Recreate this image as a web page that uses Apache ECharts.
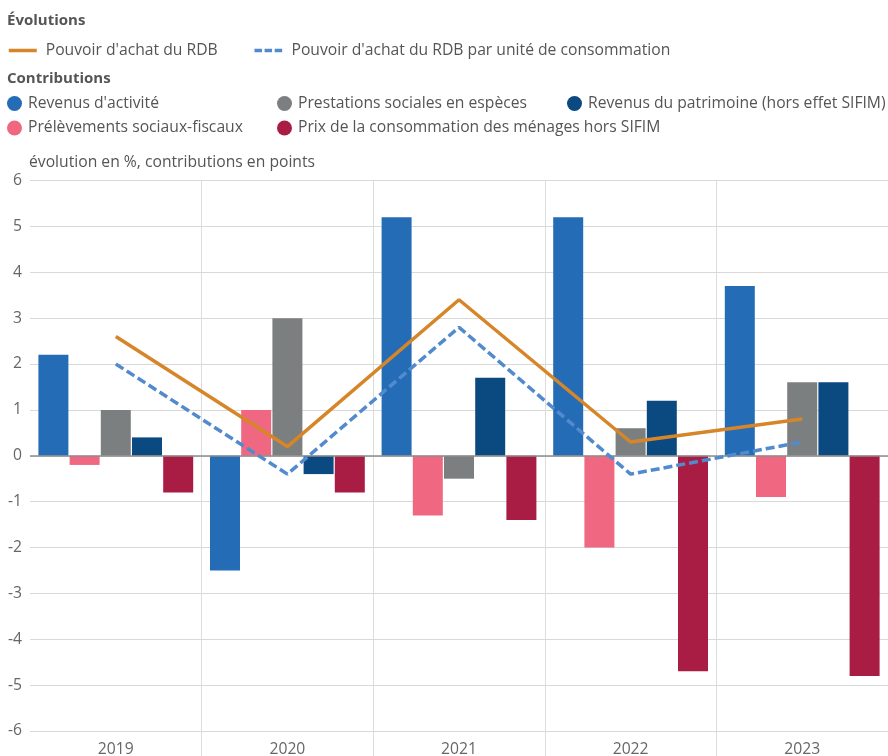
<!DOCTYPE html>
<html>
<head>
<meta charset="utf-8">
<script src="https://cdn.jsdelivr.net/npm/echarts@6/dist/echarts.min.js"></script>
<style>
  html, body { margin: 0; padding: 0; background: #fff; }
  #chart { width: 888px; height: 756px; }
</style>
</head>
<body>
<div id="chart"></div>
<script>
const years = ['2019', '2020', '2021', '2022', '2023'];

// contributions (points)
const revenusActivite = [2.2, -2.5, 5.2, 5.2, 3.7];
const prelevements = [-0.2, 1.0, -1.3, -2.0, -0.9];
const prestations = [1.0, 3.0, -0.5, 0.6, 1.6];
const patrimoine = [0.4, -0.4, 1.7, 1.2, 1.6];
const prix = [-0.8, -0.8, -1.4, -4.7, -4.8];

// évolutions (%)
const pouvoirAchat = [2.6, 0.2, 3.4, 0.3, 0.8];
const pouvoirAchatUC = [2.0, -0.4, 2.8, -0.4, 0.3];

const FONT = '"Open Sans", "Noto Sans", sans-serif';
const TEXT = '#555555';
const FS = 15.7;

function bar(name, data, color) {
    return {
        name: name,
        type: 'bar',
        data: data,
        barWidth: 30,
        barGap: '4%',
        itemStyle: { color: color },
        emphasis: { disabled: true }
    };
}

function line(name, data, color, type) {
    return {
        name: name,
        type: 'line',
        data: data,
        symbol: 'none',
        z: 5,
        lineStyle: { color: color, width: 3.5, type: type },
        itemStyle: { color: color },
        emphasis: { disabled: true }
    };
}

const skipFirst = function (index) {
    return index !== 0;
};

const series = [
    bar("Revenus d'activité", revenusActivite, '#246db6'),
    bar('Prélèvements sociaux-fiscaux', prelevements, '#f06782'),
    bar('Prestations sociales en espèces', prestations, '#7c7f80'),
    bar('Revenus du patrimoine (hors effet SIFIM)', patrimoine, '#0a4a80'),
    bar('Prix de la consommation des ménages hors SIFIM', prix, '#a91c43'),
    line("Pouvoir d'achat du RDB", pouvoirAchat, '#d68629', 'solid'),
    line("Pouvoir d'achat du RDB par unité de consommation", pouvoirAchatUC, '#528ace', [9, 4])
];

// zero line
series[0].markLine = {
    silent: true,
    symbol: 'none',
    label: { show: false },
    lineStyle: { color: '#8c8c8c', width: 1.5, type: 'solid' },
    data: [{ yAxis: 0 }]
};

function dotLegend(names, left) {
    return {
        data: names,
        orient: 'vertical',
        left: left,
        top: 95.5,
        icon: 'circle',
        itemWidth: 15,
        itemHeight: 15,
        itemGap: 8.5,
        padding: 0,
        selectedMode: false,
        textStyle: { color: TEXT, fontSize: FS, fontFamily: FONT, padding: [2, 0, 0, 1] }
    };
}

const chart = echarts.init(document.getElementById('chart'));

chart.setOption({
    animation: false,
    textStyle: { fontFamily: FONT },
    graphic: [
        { type: 'text', left: 7, top: 13, style: { text: 'Évolutions', fill: TEXT, font: 'bold 15px ' + FONT } },
        { type: 'text', left: 7, top: 71, style: { text: 'Contributions', fill: TEXT, font: 'bold 15px ' + FONT } },
        { type: 'text', left: 29, top: 155, style: { text: 'évolution en %, contributions en points', fill: TEXT, font: FS + 'px ' + FONT } }
    ],
    legend: [
        {
            data: [
                { name: "Pouvoir d'achat du RDB", lineStyle: { width: 3.5, type: 'solid' } },
                { name: "Pouvoir d'achat du RDB par unité de consommation", lineStyle: { width: 3.5, type: [7.5, 2.6] } }
            ],
            left: 7,
            top: 42.5,
            itemWidth: 28,
            itemHeight: 15,
            itemGap: 35,
            padding: 0,
            selectedMode: false,
            itemStyle: { opacity: 0 },
            textStyle: { color: TEXT, fontSize: FS, fontFamily: FONT, padding: [0, 0, 0, 4] }
        },
        dotLegend(["Revenus d'activité", 'Prélèvements sociaux-fiscaux'], 7),
        dotLegend(['Prestations sociales en espèces', 'Prix de la consommation des ménages hors SIFIM'], 277),
        dotLegend(['Revenus du patrimoine (hors effet SIFIM)'], 567)
    ],
    grid: { left: 30, right: 0, top: 180.5, bottom: 25, containLabel: false, outerBoundsMode: 'none' },
    xAxis: {
        type: 'category',
        data: years,
        axisLine: { show: false, onZero: false },
        axisTick: { show: true, length: 26, interval: skipFirst, lineStyle: { color: '#dcdcdc' } },
        splitLine: { show: true, interval: skipFirst, lineStyle: { color: '#dcdcdc' } },
        axisLabel: { color: '#666', fontSize: FS, margin: 11, fontFamily: FONT }
    },
    yAxis: {
        type: 'value',
        min: -6,
        max: 6,
        interval: 1,
        axisLine: { show: false },
        axisTick: { show: false },
        splitLine: { lineStyle: { color: '#d9d9d9' } },
        axisLabel: { color: '#666', fontSize: FS, margin: 8, fontFamily: FONT }
    },
    series: series
});
</script>
</body>
</html>
